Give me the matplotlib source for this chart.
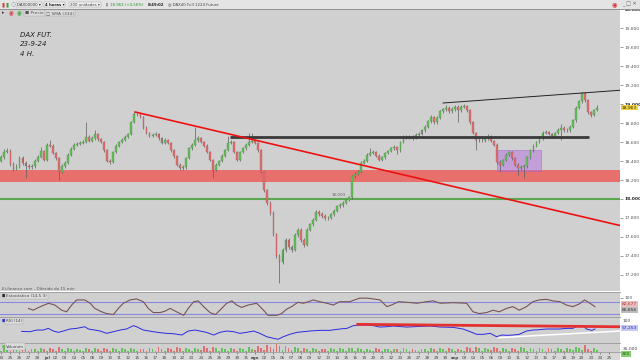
import numpy as np
import matplotlib.pyplot as plt
from matplotlib.patches import Rectangle

W, H = 640, 360
BG = '#d0d0d0'
UP = '#66bf5c'
DOWN = '#e07070'

# 4h candles, 3 per session, first session = mon 24 jun
first_open = 18400
closes = [
    18440, 18500, 18510, 18370, 18320, 18340, 18430, 18380, 18345,
    18335, 18345, 18400, 18440, 18505, 18410,
    18570, 18560, 18485, 18430, 18285, 18345, 18380, 18465, 18525,
    18570, 18580, 18590, 18600, 18655, 18610,
    18640, 18685, 18630, 18600, 18515, 18400, 18390, 18495, 18560,
    18600, 18620, 18655, 18685, 18810, 18895,
    18895, 18865, 18750, 18695, 18665, 18675, 18685, 18640, 18590,
    18620, 18590, 18515, 18450, 18360, 18325,
    18335, 18430, 18535, 18570, 18620, 18640, 18600, 18560, 18495,
    18410, 18305, 18360, 18400, 18455, 18515,
    18590, 18600, 18495, 18410, 18495, 18535, 18570, 18600, 18610,
    18590, 18515, 18285, 18095, 17960, 17855,
    17630, 17400, 17340, 17460, 17570, 17495, 17465, 17620, 17675,
    17570, 17515, 17675, 17735, 17780, 17865,
    17840, 17820, 17800, 17800, 17840, 17875, 17925, 17935, 17960,
    17990, 18020, 18240, 18265, 18285, 18380,
    18400, 18465, 18485, 18495, 18455, 18410, 18440, 18485, 18505,
    18535, 18545, 18515, 18600, 18655, 18655,
    18655, 18645, 18675, 18685, 18725, 18760, 18820, 18865, 18810,
    18855, 18925, 18945, 18960, 18925, 18945,
    18970, 18935, 18970, 18980, 18935, 18810, 18695, 18620, 18620,
    18620, 18640, 18655, 18610, 18570, 18390,
    18360, 18410, 18465, 18495, 18430, 18360, 18325, 18335, 18345,
    18440, 18515, 18560, 18600, 18640, 18695,
    18705, 18685, 18665, 18695, 18725, 18750, 18725, 18725, 18760,
    18830, 18960, 19030, 19115, 19040, 18915,
    18885, 18935, 18963,
]
highs = [
    18465, 18525, 18540, 18525, 18385, 18365, 18450, 18450, 18395,
    18370, 18365, 18420, 18460, 18550, 18520,
    18590, 18620, 18575, 18500, 18440, 18365, 18400, 18480, 18545,
    18590, 18600, 18610, 18625, 18810, 18670,
    18660, 18725, 18700, 18645, 18615, 18525, 18425, 18510, 18575,
    18615, 18640, 18670, 18700, 18825, 18916,
    18910, 18905, 18875, 18765, 18710, 18700, 18705, 18700, 18655,
    18640, 18635, 18600, 18530, 18465, 18375,
    18355, 18445, 18550, 18585, 18760, 18665, 18655, 18615, 18575,
    18505, 18420, 18375, 18415, 18470, 18530,
    18665, 18620, 18615, 18505, 18510, 18550, 18585, 18695, 18690,
    18630, 18605, 18525, 18300, 18110, 17975,
    17870, 17645, 17420, 17480, 17590, 17585, 17515, 17640, 17695,
    17690, 17590, 17690, 17750, 17800, 17880,
    17885, 17860, 17840, 17825, 17855, 17890, 17940, 17955, 17975,
    18005, 18035, 18255, 18285, 18305, 18395,
    18420, 18480, 18540, 18515, 18510, 18470, 18455, 18500, 18520,
    18550, 18565, 18560, 18615, 18670, 18675,
    18675, 18670, 18690, 18705, 18740, 18775, 18835, 18880, 18875,
    18870, 18940, 18960, 18985, 18975, 18965,
    18990, 18985, 18985, 19000, 18995, 18950, 18825, 18710, 18650,
    18645, 18660, 18680, 18670, 18625, 18585,
    18410, 18425, 18480, 18510, 18510, 18445, 18375, 18360, 18365,
    18455, 18530, 18575, 18615, 18660, 18720,
    18725, 18720, 18700, 18710, 18745, 18790, 18765, 18745, 18775,
    18845, 18975, 19045, 19125, 19120, 19055,
    18930, 18950, 18985,
]
lows = [
    18385, 18425, 18480, 18350, 18300, 18305, 18330, 18360, 18220,
    18315, 18320, 18330, 18390, 18430, 18395,
    18400, 18545, 18470, 18415, 18200, 18270, 18330, 18365, 18455,
    18515, 18555, 18565, 18575, 18590, 18595,
    18600, 18625, 18615, 18585, 18500, 18385, 18370, 18380, 18485,
    18545, 18590, 18610, 18640, 18675, 18800,
    18870, 18850, 18735, 18680, 18650, 18650, 18660, 18625, 18575,
    18575, 18575, 18500, 18435, 18345, 18305,
    18305, 18320, 18420, 18520, 18560, 18605, 18585, 18545, 18480,
    18395, 18220, 18290, 18345, 18390, 18440,
    18505, 18575, 18480, 18395, 18400, 18480, 18520, 18560, 18590,
    18575, 18500, 18270, 18075, 17940, 17835,
    17610, 17380, 17115, 17320, 17440, 17475, 17440, 17450, 17600,
    17550, 17490, 17500, 17660, 17720, 17765,
    17825, 17800, 17780, 17780, 17785, 17825, 17860, 17910, 17920,
    17945, 17975, 18005, 18225, 18250, 18270,
    18365, 18385, 18450, 18470, 18440, 18395, 18395, 18425, 18470,
    18490, 18520, 18470, 18500, 18585, 18635,
    18630, 18625, 18630, 18660, 18670, 18710, 18745, 18805, 18795,
    18795, 18840, 18910, 18930, 18910, 18910,
    18930, 18810, 18920, 18955, 18920, 18795, 18680, 18515, 18600,
    18600, 18605, 18625, 18595, 18555, 18370,
    18300, 18345, 18395, 18450, 18415, 18345, 18253, 18310, 18220,
    18330, 18425, 18500, 18545, 18585, 18625,
    18680, 18670, 18640, 18650, 18680, 18620, 18710, 18705, 18710,
    18745, 18815, 18945, 19015, 19025, 18900,
    18865, 18870, 18925,
]
volumes = [
    8, 30, 22, 7, 28, 20, 9, 32, 24, 8, 26, 21, 10, 35, 25,
    9, 33, 24, 10, 38, 26, 8, 30, 22, 7, 25, 18, 9, 34, 23,
    8, 29, 20, 9, 31, 24, 8, 28, 22, 9, 30, 23, 8, 33, 21,
    7, 27, 20, 9, 30, 24, 10, 36, 26, 9, 32, 25, 11, 40, 28,
    8, 30, 22, 9, 33, 26, 12, 45, 30, 11, 42, 29, 9, 31, 24,
    8, 29, 21, 9, 32, 24, 10, 36, 27, 12, 44, 35, 16, 52, 40,
    22, 62, 48, 15, 48, 34, 12, 40, 30, 10, 35, 26, 8, 28, 20,
    7, 26, 20, 8, 30, 22, 9, 31, 23, 10, 34, 30, 9, 32, 24,
    7, 25, 19, 8, 28, 21, 8, 27, 20, 7, 26, 21, 8, 30, 24,
    7, 24, 18, 8, 27, 20, 8, 29, 22, 9, 31, 23, 8, 28, 22,
    6, 22, 16, 10, 36, 28, 11, 40, 29, 9, 33, 25, 12, 42, 33,
    9, 30, 23, 10, 34, 25, 11, 38, 28, 10, 35, 27, 9, 32, 24,
    8, 29, 22, 9, 31, 24, 10, 34, 26, 12, 40, 30, 14, 55, 20,
    9, 32, 14,
]

day_labels = [
    '24', '25', '26', '27', '28',
    'jul', '02', '03', '04', '05', '08', '09', '10', '11', '12', '15', '16',
    '17', '18', '19', '22', '23', '24', '25', '26', '29', '30', '31',
    'ago', '02', '05', '06', '07', '08', '09', '12', '13', '14', '15', '16',
    '19', '20', '21', '22', '23', '26', '27', '28', '29', '30',
    'sep', '03', '04', '05', '06', '09', '10', '11', '12', '13', '16', '17',
    '18', '19', '20', '23', '24', '25',
]

# oscillators, traced by session position
stoch_days = [-2.0, -1.5, -0.7, 0.2, 0.9, 1.65, 2.2, 2.75, 3.3, 4.2, 4.8, 5.3,
              6.05, 6.6, 7.35, 7.9, 8.45, 9.2, 9.9, 10.65, 11.2, 11.75, 12.5,
              13.05, 13.6, 14.3, 15.1, 15.6, 16.2, 16.7, 17.3, 18.0, 18.6,
              19.1, 19.85, 20.4, 20.95, 21.5, 22.2, 23.15, 23.9, 24.4, 25.35,
              25.9, 26.45, 27.0, 27.7, 28.3, 28.85, 29.4, 30.1, 30.9, 31.6,
              32.3, 33.4, 34.5, 35.3, 36.0, 36.75, 37.5, 38.0, 38.8, 39.7,
              40.8, 41.9, 42.6, 43.4, 44.8, 46.3, 47.0, 47.7, 48.5, 49.2,
              49.9, 50.7, 51.4, 52.1, 52.9, 53.6, 54.3, 55.1, 55.8, 56.6,
              57.3, 58.0, 58.7, 59.3, 59.9, 60.45]
stoch_vals = [46, 37, 55, 72, 63, 37, 29, 63, 89, 89, 72, 46,
              29, 20, 15, 46, 72, 89, 94, 80, 46, 25, 25,
              32, 46, 29, 11, 46, 80, 84, 55, 25, 15,
              37, 72, 84, 63, 51, 63, 72, 37, 11, 11,
              20, 42, 55, 77, 72, 80, 89, 80, 72, 63,
              80, 80, 98, 98, 94, 89, 55, 63, 80, 77,
              72, 80, 84, 72, 75, 72, 29, 20, 25, 37,
              29, 46, 55, 37, 55, 80, 89, 92, 84, 80,
              63, 55, 68, 89, 72, 55]

rsi_days = [-2.76, -1.84, -1.1, -0.37, 0.18, 0.73, 1.28, 1.83, 2.57, 3.3, 4.2,
            4.6, 5.3, 5.9, 6.6, 7.35, 8.1, 8.8, 9.55, 9.9, 10.65, 11.75, 12.5,
            13.2, 13.95, 14.9, 15.6, 16.35, 16.9, 17.6, 18.4, 19.1, 19.85,
            20.6, 21.3, 22.05, 22.8, 23.5, 24.25, 25.0, 25.5, 26.1, 26.8,
            27.6, 28.3, 29.0, 30.1, 31.2, 32.3, 33.1, 33.8, 34.5, 35.3, 36.0,
            36.75, 37.5, 38.2, 39.7, 41.2, 42.3, 43.4, 44.8, 45.9, 46.7, 47.4,
            48.1, 48.9, 49.6, 50.2, 50.7, 51.4, 52.1, 52.9, 53.6, 54.3, 55.1,
            55.8, 56.6, 57.3, 58.0, 58.6, 59.2, 59.5, 60.1, 60.45]
rsi_vals = [49.6, 48.5, 53.9, 53.9, 59.3, 50.7, 46.4, 50.7, 57.2, 59.3, 64.6,
            57.2, 53.9, 50.7, 43.2, 48.5, 53.9, 57.2, 68.0, 64.6, 53.9, 48.5, 45.3,
            43.2, 42.0, 37.8, 50.7, 53.9, 50.7, 46.4, 37.8, 46.4, 50.7,
            48.5, 43.2, 46.4, 50.7, 43.2, 32.4, 27.1, 24.0, 32.4, 40.0,
            46.4, 48.5, 50.7, 52.8, 52.8, 57.2, 59.3, 68.0, 70.0, 70.0, 68.0,
            63.5, 64.6, 66.8, 63.5, 65.7, 66.8, 63.5, 62.5, 57.2, 48.5, 40.0,
            40.0, 43.2, 32.4, 37.8, 36.7, 37.8, 40.0, 50.7, 53.9, 55.0, 57.2,
            57.2, 57.2, 59.3, 59.3, 68.0, 66.8, 57.2, 52.8, 57.2]

# hand-drawn studies on the chart
support_band = (18179, 18305)
green_level = 18003
black_level = 18653
black_level_span = (20.2, 59.8)
down_trend = ([9.75, 63.2], [18916, 17721])
up_trend = ([43.7, 63.2], [19011, 19145])
purple_box = (49.7, 54.45, 18295, 18516)
rsi_resist = ([34.3, 63.2], [72.2, 64.5])
rsi_support = ([49.8, 63.2], [29.2, 50.7])
last_price = 18963


def box(x0, y0, x1, y1):
    return [x0 / W, 1 - y1 / H, (x1 - x0) / W, (y1 - y0) / H]


def ftext(x, y, s, **kw):
    kw.setdefault('va', 'center')
    kw.setdefault('fontsize', 3.2)
    return fig.text(x / W, 1 - y / H, s, **kw)


def fmt_price(v):
    return f'{v:,.0f}'.replace(',', '.')


fig = plt.figure(figsize=(6.4, 3.6), dpi=100, facecolor='white')

ax = fig.add_axes(box(0, 9, 620, 291))
ax_s = fig.add_axes(box(0, 292, 620, 317), sharex=ax)
ax_r = fig.add_axes(box(0, 317, 620, 343), sharex=ax)
ax_v = fig.add_axes(box(0, 343, 620, 352), sharex=ax)

for a in (ax, ax_s, ax_r, ax_v):
    a.set_facecolor(BG)
    for side in ('left', 'right', 'bottom'):
        a.spines[side].set_visible(False)
    a.spines['top'].set_color('#9a9a9a')
    a.spines['top'].set_linewidth(0.6)
    a.tick_params(axis='x', bottom=False, labelbottom=False)
    a.yaxis.tick_right()
    a.tick_params(axis='y', direction='out', length=2, width=0.4, pad=1,
                  labelsize=3.2, colors='#555555')

ax.set_xlim(-5.15, 63.21)
ax.set_ylim(17031, 20001)

# candles
n = len(closes)
pos = np.arange(n) / 3 - 5
c = np.array(closes, dtype=float)
o = np.array([first_open] + closes[:-1], dtype=float)
ax.vlines(pos, lows, highs, color='#5c5c5c', lw=0.5, zorder=3)
lo = np.minimum(o, c)
hgt = np.abs(c - o)
up = c > o
dn = c < o
fl = c == o
ax.bar(pos[up], hgt[up], bottom=lo[up], width=0.2, color=UP,
       edgecolor='#3f7f38', lw=0.2, zorder=4)
ax.bar(pos[dn], hgt[dn], bottom=lo[dn], width=0.2, color=DOWN,
       edgecolor='#9a4a4a', lw=0.2, zorder=4)
ax.bar(pos[fl], 6, bottom=lo[fl] - 3, width=0.22, color='#222222', zorder=4)

# studies
ax.axhspan(*support_band, color='#e8706c', zorder=1, lw=0)
ax.axhline(green_level, color='#5aa84e', lw=1.5, zorder=2)
ax.hlines(black_level, *black_level_span, color='#3a3a3a', lw=2.0, zorder=5)
ax.plot(*down_trend, color='#ee1111', lw=1.2, zorder=5)
ax.plot(*up_trend, color='#222222', lw=0.7, zorder=5)
px0, px1, py0, py1 = purple_box
ax.add_patch(Rectangle((px0, py0), px1 - px0, py1 - py0, facecolor='#b670de',
                       alpha=0.5, edgecolor='#9a5cc4', lw=0.6, zorder=2))
ax.text(31.4, green_level + 25, fmt_price(green_level), fontsize=3,
        color='#666666', zorder=6)

ticks = list(range(17200, 20001, 200))
ax.set_yticks(ticks, labels=[fmt_price(t) for t in ticks])
for lab in ax.get_yticklabels():
    if lab.get_text() in ('20.000', '19.000', '18.000'):
        lab.set_fontweight('bold')
        lab.set_color('#222222')

ax.text(0.032, 0.92, 'DAX FUT.\n\n23-9-24\n\n4 H.', transform=ax.transAxes,
        fontsize=5, style='italic', color='#222222', va='top',
        linespacing=0.75)

# stochastic
ax_s.set_ylim(2.6, 129)
ax_s.axhline(80, color='#8a8ae0', lw=0.8)
ax_s.axhline(20, color='#8a8ae0', lw=0.8)
ax_s.plot(stoch_days, stoch_vals, color='#7a5555', lw=0.8)
ax_s.set_yticks([100], labels=['100'])

# rsi
ax_r.set_ylim(12, 96)
ax_r.plot(rsi_days, rsi_vals, color='#2a2ae0', lw=0.7, zorder=3)
ax_r.plot(*rsi_resist, color='#e53030', lw=2.0, zorder=4)
ax_r.plot(*rsi_support, color='white', lw=1.1, zorder=4)
ax_r.set_yticks([])

# volume
vcol = np.where(c >= o, UP, DOWN)
ax_v.bar(pos, volumes, width=0.2, color=vcol, lw=0)
ax_v.set_ylim(0, 70)
ax_v.set_yticks([])
ax_v.spines['bottom'].set_visible(True)
ax_v.spines['bottom'].set_color('#9a9a9a')
ax_v.spines['bottom'].set_linewidth(0.6)
ax_v.set_xticks(np.arange(-5, 63), labels=day_labels)
ax_v.tick_params(axis='x', bottom=True, labelbottom=True, labelsize=3,
                 pad=1.5, length=1.2, width=0.4, colors='#444444')
for lab in ax_v.get_xticklabels():
    if lab.get_text() in ('jul', 'ago', 'sep'):
        lab.set_fontweight('bold')
ax_v.set_xlim(-5.15, 63.21)

# label strip under the panels
fig.add_artist(Rectangle((0, 0), 620 / W, 8 / H, transform=fig.transFigure,
                         facecolor='#d8d8d8', edgecolor='none', zorder=0))

# header bar
fig.add_artist(Rectangle((0, 1 - 9 / H), 1, 9 / H, transform=fig.transFigure,
                         facecolor='#e4e4e4', edgecolor='none', zorder=5))
fig.add_artist(plt.Line2D([0, 1], [1 - 9 / H] * 2, transform=fig.transFigure,
                          color='#909090', lw=0.6, zorder=6))
hb = dict(boxstyle='square,pad=0.2', fc='#f0f0f0', ec='#a0a0a0', lw=0.3)
HF = 2.8
ftext(2, 4.5, '▮', color='#d04040', fontsize=4, zorder=7)
ftext(5, 4.5, '▮', color='#40a040', fontsize=4, zorder=7)
ftext(11, 4.5, '◌', color='#4a6a9a', fontsize=4, zorder=7)
ftext(17, 4.5, 'DAX00000 ▾', color='#222222', fontsize=HF, bbox=hb, zorder=7)
ftext(45, 4.5, '4 horas ▾', color='#222222', fontsize=HF, bbox=hb,
      weight='bold', zorder=7)
ftext(70, 4.5, '200 unidades ▾', color='#444444', fontsize=HF, bbox=hb,
      zorder=7)
ftext(105, 4.5, '‖', color='#333333', fontsize=HF, zorder=7)
ftext(110, 4.5, '18.963 (+0,56%)', color='#1f9a1f', fontsize=HF, zorder=7)
ftext(148, 4.5, '8:49:02', color='#222222', fontsize=HF, weight='bold',
      zorder=7)
ftext(168, 4.5, '◎ DAX40 Full 1224 Future', color='#444444', fontsize=HF,
      zorder=7)
ftext(612, 4.5, '◉', color='#d03030', fontsize=4.5, zorder=7)
ftext(622, 4.5, '_ □ ✕', color='#666666', fontsize=3.6, zorder=7)

lb = dict(boxstyle='square,pad=0.25', fc='#dcdcdc', ec='#a8a8a8', lw=0.3)
ftext(2, 13, '▸', color='#333333', fontsize=3.4)
ftext(9, 13, '◉', color='#e04040', fontsize=4)
ftext(17, 13, '◉', color='#40b040', fontsize=4)
ftext(25, 13, '■ Precio', color='#555555', fontsize=3.2, bbox=lb)
ftext(46, 13, '□ SMA (334)', color='#555555', fontsize=3.2, bbox=lb)

# panel captions
ftext(2, 288.5, 'Ei-finance.com - Diferido de 15 min', color='#555555', fontsize=3)
ftext(2, 296, '■', color='#222222', fontsize=3.2)
ftext(6, 296, 'Estocástico (14-5 3)', color='#444444', fontsize=3, bbox=lb)
ftext(2, 321, '■', color='#2a2ae0', fontsize=3.2)
ftext(6, 321, 'RSI (14)', color='#444444', fontsize=3, bbox=lb)
ftext(2, 346.5, '■', color=UP, fontsize=3.2)
ftext(6, 346.5, 'Volumen', color='#444444', fontsize=3, bbox=lb)

# right-hand value boxes
y_last = 9 + (20001 - last_price) / (20001 - 17031) * 282
ftext(622, y_last, fmt_price(last_price), color='#333333', fontsize=3.2,
      bbox=dict(boxstyle='square,pad=0.2', fc='#f0d23c', ec='none'))
ftext(622, 304, '82,677', color='#b04040', fontsize=3.2,
      bbox=dict(boxstyle='square,pad=0.2', fc='#e6bcbc', ec='none'))
ftext(622, 310, '86,856', color='#333333', fontsize=3.2,
      bbox=dict(boxstyle='square,pad=0.2', fc='#bcbcbc', ec='none'))
ftext(623, 320.7, '100', color='#444444', fontsize=3.2)
ftext(622, 328.3, '57,253', color='#2a2ac0', fontsize=3.2,
      bbox=dict(boxstyle='square,pad=0.2', fc='#c4caf0', ec='none'))
ftext(623, 348.7, '35.000', color='#444444', fontsize=3.2)
ftext(622, 354.2, '300', color='#1a5a10', fontsize=3.2,
      bbox=dict(boxstyle='square,pad=0.2', fc='#86d070', ec='none'))

fig.savefig('out.png', dpi=100, facecolor='white')
